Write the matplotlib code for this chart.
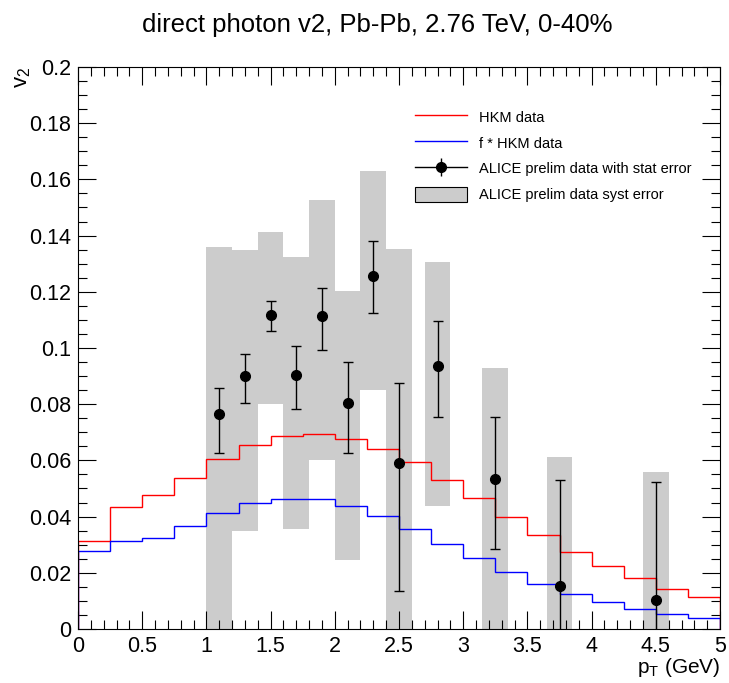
#!/usr/bin/env python3
# -*- coding: utf-8 -*-
"""
direct photon v2 in Pb-Pb at 2.76 TeV (0-40%): HKM model vs ALICE preliminary data
"""

import numpy as np
import matplotlib as mpl
mpl.use("Agg")
import matplotlib.pyplot as plt
from matplotlib.lines import Line2D
from matplotlib.patches import Patch
from matplotlib.ticker import MultipleLocator, FormatStrFormatter

plt.rcParams['font.family'] = ['Liberation Sans', 'DejaVu Sans']
plt.rcParams['mathtext.fontset'] = 'custom'
plt.rcParams['mathtext.rm'] = 'Liberation Sans'
plt.rcParams['mathtext.it'] = 'Liberation Sans'
plt.rcParams['mathtext.default'] = 'regular'

# HKM histograms (20 bins of 0.25 GeV)
pt_edges = np.linspace(0, 5, 21)
hkm = [0.0314, 0.0435, 0.0478, 0.0538, 0.0604, 0.0655, 0.0686, 0.0693, 0.0676, 0.0642,
       0.0593, 0.0531, 0.0465, 0.0399, 0.0335, 0.0275, 0.0225, 0.0180, 0.0143, 0.0113]
f_hkm = [0.0279, 0.0313, 0.0325, 0.0365, 0.0412, 0.0447, 0.0464, 0.0462, 0.0438, 0.0401,
         0.0355, 0.0304, 0.0253, 0.0204, 0.0161, 0.0126, 0.0095, 0.0071, 0.0052, 0.0038]

# ALICE preliminary points
pt = [1.1, 1.3, 1.5, 1.7, 1.9, 2.1, 2.3, 2.5, 2.8, 3.25, 3.75, 4.5]
v2 = [0.0765, 0.0902, 0.1116, 0.0905, 0.1113, 0.0803, 0.1257, 0.0592, 0.0937, 0.0534, 0.0154, 0.0104]
stat_hi = [0.0859, 0.0980, 0.1169, 0.1006, 0.1215, 0.0950, 0.1380, 0.0874, 0.1097, 0.0755, 0.0530, 0.0524]
stat_lo = [0.0626, 0.0804, 0.1062, 0.0783, 0.0992, 0.0625, 0.1123, 0.0136, 0.0753, 0.0285, -0.0220, -0.0310]
syst_hi = [0.1359, 0.1350, 0.1413, 0.1324, 0.1527, 0.1203, 0.1630, 0.1352, 0.1306, 0.0929, 0.0612, 0.0559]
syst_lo = [0.0, 0.0349, 0.0801, 0.0357, 0.0601, 0.0246, 0.0851, 0.0, 0.0438, 0.0, 0.0, 0.0]
syst_width = 0.2

pt = np.array(pt)
v2 = np.array(v2)
yerr = [v2 - np.array(stat_lo), np.array(stat_hi) - v2]

fig = plt.figure(figsize=(7.29, 6.83), dpi=100)
ax = fig.add_axes([0.107, 0.0791, 0.8807, 0.8228])

ax.bar(pt, np.array(syst_hi) - np.array(syst_lo), bottom=syst_lo, width=syst_width,
       color='#cccccc', linewidth=0, zorder=1)
ax.stairs(hkm, pt_edges, color='#ff0000', lw=1.0, zorder=2)
ax.stairs(f_hkm, pt_edges, color='#0000ff', lw=1.0, zorder=2)
eb = ax.errorbar(pt, v2, yerr=yerr, fmt='o', color='black', ms=7, lw=1.0,
                 capsize=3.6, capthick=1.0, zorder=3)

ax.set_xlim(0, 5)
ax.set_ylim(0, 0.2)
ax.xaxis.set_major_locator(MultipleLocator(0.5))
ax.xaxis.set_minor_locator(MultipleLocator(0.1))
ax.yaxis.set_major_locator(MultipleLocator(0.02))
ax.yaxis.set_minor_locator(MultipleLocator(0.005))
ax.xaxis.set_major_formatter(FormatStrFormatter('%g'))
ax.yaxis.set_major_formatter(FormatStrFormatter('%g'))
ax.tick_params(which='both', direction='in', top=True, right=True, labelsize=15.5, width=0.8)
ax.tick_params(which='major', length=13, pad=5)
ax.tick_params(which='minor', length=6.5)
for s in ax.spines.values():
    s.set_linewidth(0.8)

ax.set_xlabel('p$_T$ (GeV)', loc='right', fontsize=15)
ax.xaxis.set_label_coords(1.0, -0.048)
ax.set_ylabel('v$_2$', loc='top', fontsize=16)
ax.yaxis.set_label_coords(-0.07, 1.0)

fig.text(0.517, 0.964, 'direct photon v2, Pb-Pb, 2.76 TeV, 0-40%', ha='center', va='center', fontsize=18.5)

# legend, the stat-error entry drawn as line + marker + bar like ROOT's "lep"
hline = Line2D([], [], color='black', lw=1.0)
vbar = Line2D([], [], color='black', marker='|', ms=13, mew=1.0, ls='none')
stat_handle = Line2D([], [], color='black', marker='o', ms=7, ls='none')
handles = [Line2D([], [], color='#ff0000', lw=1.0),
           Line2D([], [], color='#0000ff', lw=1.0),
           (hline, vbar, stat_handle),
           Patch(facecolor='#cccccc', edgecolor='black', lw=0.8)]
labels = ['HKM data', 'f * HKM data', 'ALICE prelim data with stat error', 'ALICE prelim data syst error']
ax.legend(handles, labels, loc='upper left', bbox_to_anchor=(0.525, 0.925), frameon=False,
          fontsize=10.5, handlelength=3.56, handleheight=1.23, handletextpad=0.8,
          labelspacing=0.71, borderpad=0, borderaxespad=0)

fig.savefig('out.png', dpi=100)
